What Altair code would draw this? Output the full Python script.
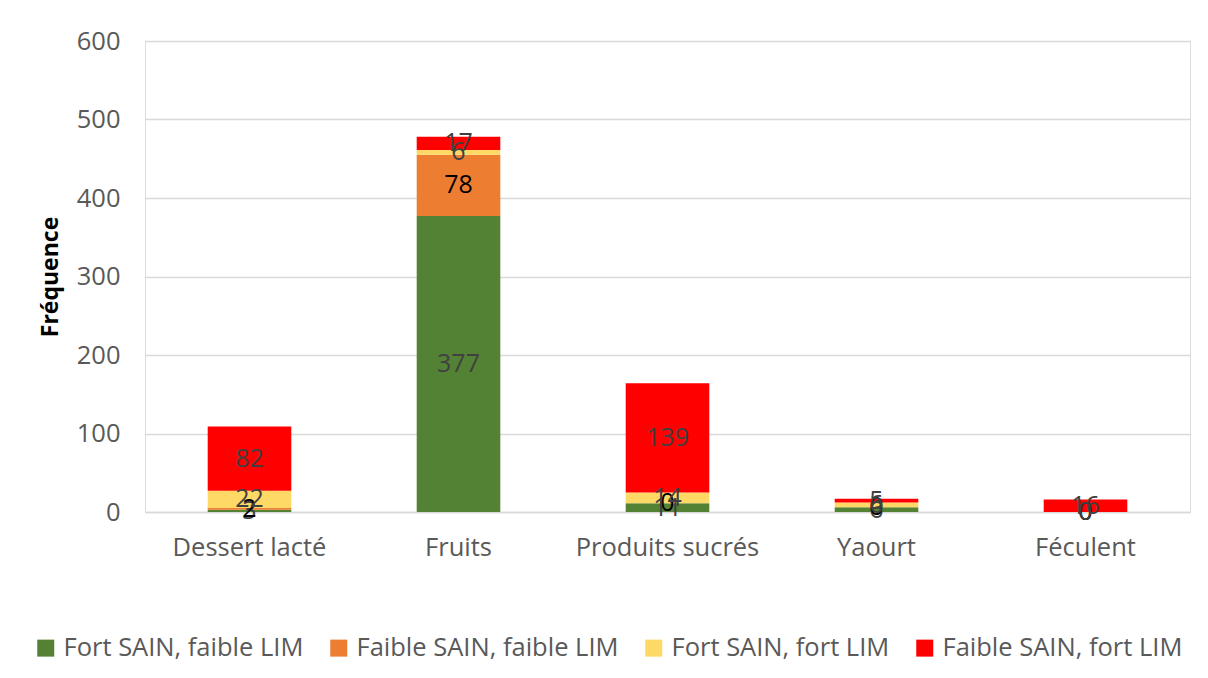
import altair as alt
import pandas as pd

categories = ["Dessert lacté", "Fruits", "Produits sucrés", "Yaourt", "Féculent"]
series = ["Fort SAIN, faible LIM", "Faible SAIN, faible LIM", "Fort SAIN, fort LIM", "Faible SAIN, fort LIM"]
colors = ["#548235", "#ed7d31", "#ffd966", "#ff0000"]
label_colors = ["#404040", "#000000", "#404040", "#404040"]

fort_sain_faible_lim = [3, 377, 11, 6, 0]
faible_sain_faible_lim = [2, 78, 0, 0, 0]
fort_sain_fort_lim = [22, 6, 14, 6, 0]
faible_sain_fort_lim = [82, 17, 139, 5, 16]

values = [fort_sain_faible_lim, faible_sain_faible_lim, fort_sain_fort_lim, faible_sain_fort_lim]

rows = []
for ci, cat in enumerate(categories):
    cum = 0
    for si, s in enumerate(series):
        v = values[si][ci]
        rows.append({"cat": cat, "serie": s, "order": si, "v": v,
                     "mid": cum + v / 2, "lc": label_colors[si]})
        cum += v
df = pd.DataFrame(rows)

FONT = "Open Sans"
FS = 25.5

x = alt.X("cat:N", sort=categories, title=None,
          scale=alt.Scale(paddingInner=0.6, paddingOuter=0.3),
          axis=alt.Axis(labelAngle=0, labelFontSize=FS, labelColor="#595959",
                        labelFont=FONT, domainColor="#d9d9d9", ticks=False,
                        labelPadding=23, domainWidth=1.5, labelLimit=400))

bars = alt.Chart(df).mark_bar().encode(
    x=x,
    y=alt.Y("sum(v):Q", stack="zero", title="Fréquence",
            scale=alt.Scale(domain=[0, 600]),
            axis=alt.Axis(values=[0, 100, 200, 300, 400, 500, 600], labelFontSize=FS,
                          labelColor="#595959", labelFont=FONT, domain=False, ticks=False,
                          labelPadding=25, gridColor="#d9d9d9", gridWidth=1.3,
                          titleFontSize=23, titleFont=FONT, titleFontWeight="bold",
                          titleColor="#000000", titlePadding=14)),
    color=alt.Color("serie:N", sort=series,
                    scale=alt.Scale(domain=series, range=colors),
                    legend=alt.Legend(title=None, orient="none", direction="horizontal",
                                      legendX=-112, legendY=594, columns=4,
                                      symbolType="square", symbolSize=289,
                                      symbolStrokeWidth=0, labelFontSize=25.5,
                                      labelFont=FONT, labelColor="#595959",
                                      columnPadding=22, labelOffset=5,
                                      labelLimit=400)),
    order=alt.Order("order:Q"),
)

texts = alt.Chart(df).mark_text(fontSize=25, font=FONT, baseline="middle").encode(
    x=alt.X("cat:N", sort=categories),
    y=alt.Y("mid:Q"),
    text=alt.Text("v:Q"),
    color=alt.Color("lc:N", scale=None),
)

chart = alt.layer(bars, texts).properties(
    width=1045, height=471,
    autosize=alt.AutoSizeParams(type="none"),
    padding={"left": 137, "top": 33, "right": 10, "bottom": 158},
).configure_view(stroke=None).configure(background="white")

chart.save("out.html", embed_options={"renderer": "svg", "actions": False})
